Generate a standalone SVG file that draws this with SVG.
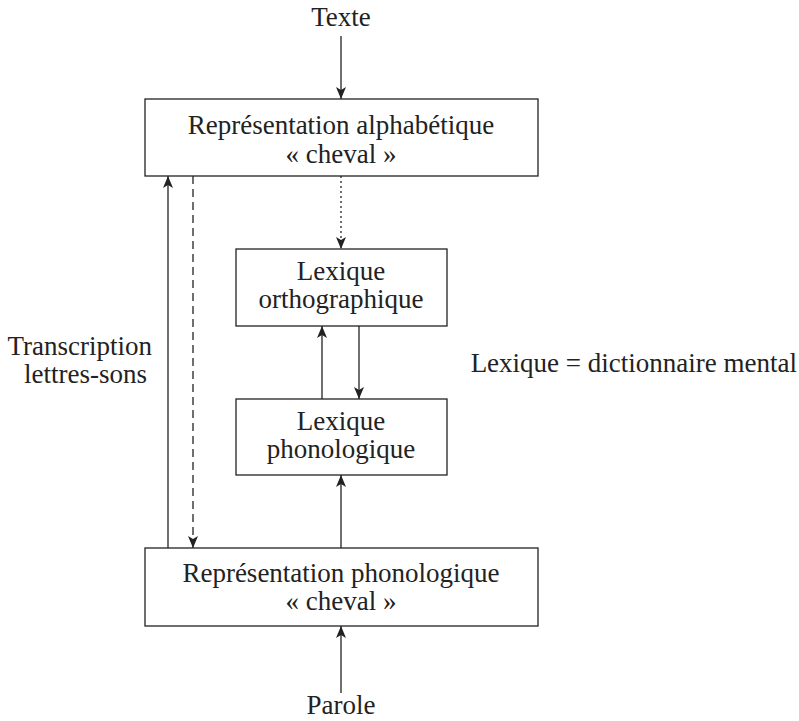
<svg xmlns="http://www.w3.org/2000/svg" width="799" height="721" viewBox="0 0 799 721">
<style>
.box{fill:#fff;stroke:#222;stroke-width:1.3}
text{font-family:"Liberation Serif","Times New Roman",serif;font-size:27px;fill:#222;text-anchor:middle}
.ln{stroke:#222;stroke-width:1.3;fill:none}
</style>
<defs>
<marker id="ah" viewBox="0 0 12 10" refX="12" refY="5" markerWidth="12" markerHeight="10" markerUnits="userSpaceOnUse" orient="auto">
<path d="M0,0 L12,5 L0,10 L3,5 Z" fill="#222"/>
</marker>
</defs>
<rect width="799" height="721" fill="#fff"/>
<g id="connectors">
<line class="ln" x1="341" y1="36" x2="341" y2="99" marker-end="url(#ah)"/>
<line class="ln" x1="168" y1="548" x2="168" y2="176" marker-end="url(#ah)"/>
<line class="ln" x1="193" y1="176" x2="193" y2="548" stroke-dasharray="8,5" marker-end="url(#ah)"/>
<line class="ln" x1="341" y1="176" x2="341" y2="249" stroke-dasharray="2,3" marker-end="url(#ah)"/>
<line class="ln" x1="322" y1="399" x2="322" y2="326" marker-end="url(#ah)"/>
<line class="ln" x1="359" y1="326" x2="359" y2="399" marker-end="url(#ah)"/>
<line class="ln" x1="341" y1="548" x2="341" y2="475" marker-end="url(#ah)"/>
<line class="ln" x1="341" y1="693" x2="341" y2="626" marker-end="url(#ah)"/>
</g>
<g id="texte"><text x="341" y="26">Texte</text></g>
<g id="rep-alpha">
<rect class="box" x="145" y="99" width="393" height="77"/>
<text x="341" y="134">Représentation alphabétique</text>
<text x="341" y="163">« cheval »</text>
</g>
<g id="lex-ortho">
<rect class="box" x="236" y="249" width="211" height="77"/>
<text x="341" y="280">Lexique</text>
<text x="341" y="308">orthographique</text>
</g>
<g id="lex-phono">
<rect class="box" x="236" y="399" width="211" height="76"/>
<text x="341" y="430">Lexique</text>
<text x="341" y="458">phonologique</text>
</g>
<g id="rep-phono">
<rect class="box" x="145" y="548" width="393" height="78"/>
<text x="341" y="582">Représentation phonologique</text>
<text x="341" y="610">« cheval »</text>
</g>
<g id="parole"><text x="341" y="714">Parole</text></g>
<g id="transcription">
<text x="152" y="355" style="text-anchor:end">Transcription</text>
<text x="147" y="383" style="text-anchor:end">lettres-sons</text>
</g>
<g id="note"><text x="797" y="372" style="text-anchor:end">Lexique = dictionnaire mental</text></g>
</svg>
